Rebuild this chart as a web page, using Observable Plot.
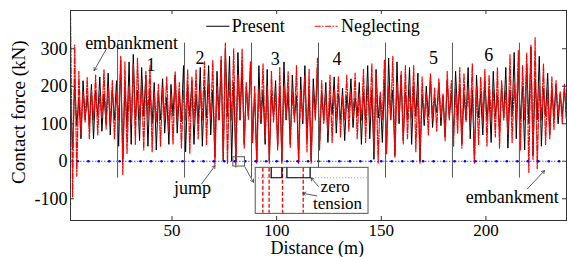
<!DOCTYPE html>
<html><head><meta charset="utf-8">
<script src="https://cdn.jsdelivr.net/npm/d3@7"></script>
<script src="https://cdn.jsdelivr.net/npm/@observablehq/plot@0.6"></script>
<style>html,body{margin:0;padding:0;background:#fff;}</style>
</head><body><div id="chart"></div>
<script>
// Contact force (kN) sampled every 1 m of distance, starting at 1.5 m
const present = [
 180, 30, 205, 95, 170, 60, 215, 110, 175, 95,
 205, 60, 190, 120, 225, 80, 180, 100, 235, 70,
 190, 110, 215, 40, 270, 5, 200, 90, 265, 45,
 285, 110, 190, 55, 250, 120, 230, 40, 195, 100,
 210, 30, 180, 110, 220, 75, 170, 45, 205, 120,
 230, 75, 185, 105, 255, 25, 200, 120, 215, 45,
 180, 100, 250, 40, 200, 115, 255, 70, 190, 10,
 240, 110, 270, 0, 300, 120, 280, 0, 210, 0,
 290, 110, 250, 45, 200, 120, 260, 60, 180, 0,
 255, 100, 190, 45, 245, 0, 180, 120, 215, 40,
 200, 0, 265, 110, 185, 45, 230, 115, 175, 0,
 225, 100, 255, 60, 190, 0, 220, 120, 250, 40,
 185, 110, 210, 50, 170, 125, 225, 75, 180, 110,
 195, 55, 175, 130, 220, 90, 170, 120, 210, 45,
 185, 110, 255, 60, 190, 5, 245, 115, 175, 50,
 210, 30, 275, 110, 190, 15, 265, 100, 230, 55,
 185, 110, 250, 45, 200, 120, 235, 0, 180, 95,
 200, 120, 225, 90, 170, 130, 210, 95, 175, 65,
 215, 115, 185, 70, 240, 120, 200, 45, 180, 110,
 250, 60, 190, 0, 230, 115, 180, 70, 215, 110,
 185, 50, 240, 120, 175, 80, 205, 115, 250, 35,
 190, 120, 290, 60, 245, 110, 200, 30, 260, 100,
 305, 15, 220, 110, 280, 40, 195, 120, 235, 70,
 190, 120, 205, 100, 180, 120, 195, 110
];
const neglecting = [
 390, -95, 310, -40, 240, 70, 185, 105, 225, 60,
 190, 110, 230, 70, 180, 115, 245, 85, 200, 100,
 215, 60, 185, 110, 280, -35, 265, 20, 200, 100,
 260, 45, 275, 110, 200, 30, 240, 115, 255, 25,
 185, 105, 205, 40, 195, 115, 225, 80, 180, 45,
 240, 110, 210, 35, 190, 110, 245, 20, 225, 100,
 245, 60, 190, 110, 265, 45, 205, 115, 270, -10,
 200, 110, 280, 5, 315, -5, 220, 110, 300, -15,
 230, 110, 300, 35, 210, 110, 265, 50, 200, -5,
 190, 110, 260, 60, 200, -5, 240, 105, 185, 30,
 250, -5, 200, 110, 240, 35, 185, 105, 255, -5,
 190, 110, 230, 25, 245, -5, 185, 110, 275, 30,
 215, 100, 180, 75, 230, 50, 190, 115, 225, 65,
 175, 110, 230, 80, 185, 115, 235, 60, 180, 110,
 245, 50, 200, 115, 260, 25, 235, -5, 185, 110,
 270, 20, 200, 110, 280, 10, 210, 115, 240, 45,
 255, 60, 190, 115, 255, 25, 200, -5, 225, 110,
 180, 70, 235, 115, 195, 80, 220, 115, 180, 55,
 240, 110, 215, 40, 195, 75, 250, 35, 235, 105,
 190, 110, 260, -5, 200, 45, 225, 110, 245, 40,
 230, 110, 190, 65, 250, 35, 215, 110, 190, 70,
 285, 50, 205, 110, 295, 30, 255, 110, 290, -30,
 310, 5, 330, -20, 200, 110, 260, 45, 190, 60,
 225, 85, 215, 120, 185, 100, 205, 110
];
const startDistance = 1.5;
const sampleSpacing = 1;

const xTicks = [50, 100, 150, 200];
const yTicks = [-100, 0, 100, 200, 300];
const seriesNames = ["Present", "Neglecting"];
const sectionBounds = [24, 56, 88, 120, 152, 184, 216];
const sectionNames = ["1", "2", "3", "4", "5", "6"];
const zeroMarks = [5,10,15,20,25,30,35,40,45,50,55,60,65,70,75,80,85,90,95,100,105,110,115,120,125,130,135,140,145,150,155,160,165,170,175,180,185,190,195,200,205,210,215,220,225,230,235];

// annotation placement (data coordinates)
const sectionLabelX = [40, 63.4, 99.3, 128.8, 175, 201.4];
const sectionLabelY = [257, 276, 271, 271, 276, 282];
const noteText = ["embankment", "jump", "zero", "tension", "embankment"];
const noteX = [30.7, 59.8, 128, 129.1, 212.6];
const noteY = [316, -71, -68, -114, -97];
const noteSize = [18, 18, 17, 17, 18];
const arrowX1 = [18.7, 64.2, 84.9, 120, 119.2, 219.8];
const arrowY1 = [300, -60, -16, -67.5, -92.5, -73.6];
const arrowX2 = [12.8, 70.6, 88.9, 116.4, 112.5, 228];
const arrowY2 = [242, -11.5, -56, -44.3, -85.3, -24.8];
const insetRedX = [93.4, 96.4, 102.8, 112.7];
const insetBlackX = [[97.4, 97.4, 102.5, 102.5], [104.9, 104.9, 116, 116]];
const insetBlackY = [-17.6, -44, -44, -17.6];

const rows = vals => vals.map((v, i) => ({d: startDistance + i * sampleSpacing, v}));
const presentRows = rows(present);
const neglectRows = rows(neglecting);
const insetBlackRows = insetBlackX.flatMap((xs, g) => xs.map((x, i) => ({x, y: insetBlackY[i], g})));
const arrowRows = arrowX1.map((x1, i) => ({x1, y1: arrowY1[i], x2: arrowX2[i], y2: arrowY2[i]}));

const F = "'Liberation Serif', 'Times New Roman', serif";
const FS = 18;
const redDash = "6,1.5,1.5,1.5";

const chart = Plot.plot({
  width: 567, height: 257,
  marginLeft: 70, marginRight: 1, marginTop: 10, marginBottom: 37,
  style: {fontFamily: F, fontSize: FS + "px", background: "#fff", color: "#000"},
  x: {domain: [1.5, 238.5]},
  y: {domain: [-158, 402]},
  marks: [
    Plot.line(presentRows, {x: "d", y: "v", stroke: "#000", strokeWidth: 1, clip: true}),
    Plot.line(neglectRows, {x: "d", y: "v", stroke: "#ff0000", strokeWidth: 1.2, strokeDasharray: redDash, clip: true}),
    Plot.ruleY([0], {x1: zeroMarks[0], x2: zeroMarks[zeroMarks.length - 1], stroke: "#0000ff", strokeWidth: 1, strokeDasharray: "1,2"}),
    Plot.dot(zeroMarks, {x: d => d, y: 0, r: 1.3, fill: "#0000ff", stroke: null}),
    Plot.ruleX(sectionBounds, {x: d => d, y1: -45, y2: 315, stroke: "#555", strokeWidth: 1}),
    Plot.text(sectionNames, {x: (d, i) => sectionLabelX[i], y: (d, i) => sectionLabelY[i], text: d => d, fontSize: FS, fill: "#000"}),
    // small box and inset
    Plot.rect([0], {x1: 79.3, x2: 84.9, y1: 10.7, y2: -14.1, fill: "none", stroke: "#555", strokeWidth: 1}),
    Plot.rect([0], {x1: 90, x2: 143.9, y1: -17.6, y2: -140.3, fill: "#fff", stroke: "#555", strokeWidth: 1}),
    Plot.ruleY([-44], {x1: 90, x2: 143.9, stroke: "#8888ff", strokeDasharray: "1,2"}),
    Plot.ruleX(insetRedX, {x: d => d, y1: -18.7, y2: -138.7, stroke: "#ff0000", strokeWidth: 1.3, strokeDasharray: "4,2"}),
    Plot.line(insetBlackRows, {x: "x", y: "y", z: "g", stroke: "#000", strokeWidth: 1.2}),
    // annotations
    Plot.text(noteText, {x: (d, i) => noteX[i], y: (d, i) => noteY[i], text: d => d, fontSize: (d, i) => noteSize[i], fill: "#000"}),
    Plot.arrow(arrowRows, {x1: "x1", y1: "y1", x2: "x2", y2: "y2", stroke: "#333", strokeWidth: 0.8, headLength: 6}),
    // legend
    Plot.ruleY([360], {x1: 66.6, x2: 77.7, stroke: "#000", strokeWidth: 1}),
    Plot.ruleY([360], {x1: 118.4, x2: 129.4, stroke: "#ff0000", strokeWidth: 1, strokeDasharray: redDash}),
    Plot.text([seriesNames[0]], {x: 78.6, y: 360, text: d => d, textAnchor: "start", fontSize: FS}),
    Plot.text([seriesNames[1]], {x: 130.7, y: 360, text: d => d, textAnchor: "start", fontSize: FS}),
    // axes
    Plot.axisX({ticks: xTicks, tickSize: 0, tickPadding: 3, label: null, tickFormat: d => String(d), fontSize: 17}),
    Plot.axisY({ticks: yTicks, tickSize: 0, tickPadding: 3, label: null, tickFormat: d => String(d), fontSize: 18}),
    Plot.ruleX(xTicks, {x: d => d, insetTop: 206, stroke: "#333"}),
    Plot.ruleX(xTicks, {x: d => d, insetBottom: 206, stroke: "#333"}),
    Plot.ruleY(yTicks, {y: d => d, insetRight: 492, stroke: "#333"}),
    Plot.ruleY(yTicks, {y: d => d, insetLeft: 492, stroke: "#333"}),
    Plot.frame({stroke: "#333"}),
    Plot.text(["Contact force (kN)"], {frameAnchor: "left", y: 131, dx: -52, rotate: -90, text: d => d, fontSize: FS + 1, textAnchor: "middle", lineAnchor: "middle"}),
    Plot.text(["Distance (m)"], {frameAnchor: "bottom", x: 119.4, dy: 33, text: d => d, fontSize: FS, textAnchor: "middle", lineAnchor: "bottom"})
  ]
});
document.getElementById("chart").appendChild(chart);
</script>
</body></html>
